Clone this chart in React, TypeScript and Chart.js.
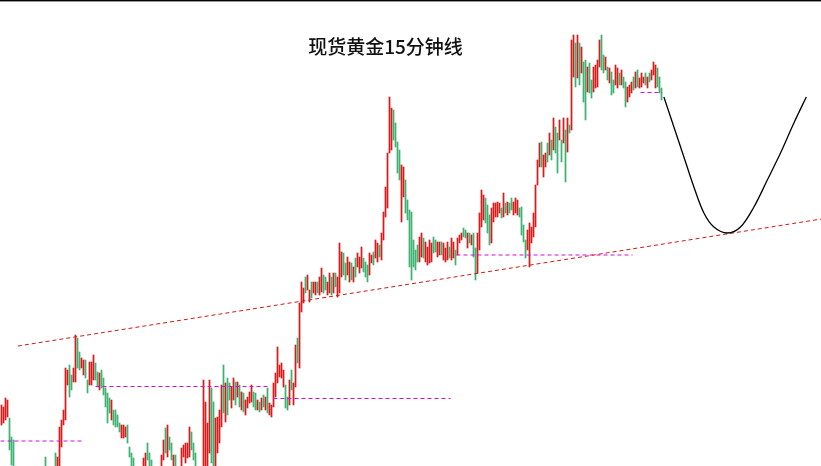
import React, { useEffect, useRef } from 'react';
import { Chart, registerables } from 'chart.js';

Chart.register(...registerables);

const TITLE = '现货黄金15分钟线';

// candle direction per bar: R = up (red), G = down (green)
const candleDirs = (
  'RRRRGGGGGR GRGGRRGRRG RRGGRRRGRR RRRRGGRRGG RRGGRRRGGR ' +
  'GGGGGRGGGG RRRGGGGGRG RRRGGGGRRG RRGRGGRGGR RRRRRGGGGR ' +
  'RRRRRGGRRR RGRGGRRGRG RGRRRRGGRG RGRGRRRRRR RRGGRGRRGR ' +
  'RRGRRGRRGR RGGRRGRGRR RGGRRGRGRR RGGGRRGRRG RRRRRRGGGG ' +
  'RRGGGGGGGR RGRRRRGGRR GRRRGRRGRR RGGRGRGGRR RRGGGRRRRR ' +
  'GRGRGGRRRG GGGRRRRRRR GRRGRGRGGR GRGRGRRGRG RGGRGGRRRR ' +
  'GGRGRGGRRG RGGRRRGRGR RRGRGRRRGG G'
).replace(/\s/g, '');

const highs = [
  1959.5, 1959.3, 1960.2, 1960.0, 1958.2, 1956.3, 1956.0, 1953.0, 1952.0, 1952.2,
  1951.5, 1951.8, 1951.2, 1950.5, 1951.0, 1951.5, 1951.2, 1952.0, 1952.2, 1952.0,
  1952.5, 1953.0, 1954.3, 1953.2, 1953.0, 1953.3, 1953.3, 1954.7, 1954.3, 1957.3,
  1958.0, 1959.0, 1963.2, 1963.0, 1963.5, 1962.5, 1963.2, 1966.5, 1966.2, 1964.8,
  1964.2, 1964.0, 1964.0, 1962.0, 1963.8, 1963.8, 1964.5, 1963.7, 1962.8, 1962.7,
  1963.0, 1962.2, 1961.2, 1960.7, 1960.2, 1960.0, 1959.0, 1959.0, 1958.5, 1957.7,
  1957.5, 1957.5, 1957.3, 1957.5, 1955.3, 1954.7, 1954.2, 1953.3, 1953.2, 1953.0,
  1953.3, 1954.2, 1954.7, 1955.7, 1954.7, 1954.0, 1953.2, 1952.8, 1953.0, 1953.3,
  1954.5, 1956.0, 1957.2, 1957.5, 1956.3, 1955.7, 1954.5, 1954.5, 1953.3, 1953.2,
  1955.2, 1955.5, 1955.7, 1955.7, 1957.3, 1956.8, 1955.7, 1954.7, 1953.3, 1953.0,
  1953.3, 1962.0, 1959.8, 1957.7, 1962.0, 1961.2, 1959.8, 1958.2, 1958.3, 1959.0,
  1961.5, 1963.5, 1961.7, 1962.2, 1961.7, 1961.3, 1962.2, 1961.8, 1961.8, 1961.5,
  1960.8, 1960.7, 1960.0, 1960.3, 1960.8, 1961.5, 1960.8, 1960.7, 1960.0, 1959.8,
  1960.2, 1960.5, 1960.3, 1961.2, 1959.7, 1959.5, 1961.7, 1962.7, 1965.3, 1963.5,
  1963.7, 1963.0, 1961.5, 1960.3, 1962.0, 1963.0, 1961.7, 1965.5, 1966.2, 1969.7,
  1971.8, 1971.2, 1972.3, 1972.5, 1971.0, 1971.8, 1971.8, 1971.8, 1971.8, 1972.3,
  1973.2, 1972.5, 1972.3, 1971.8, 1972.7, 1972.3, 1972.7, 1972.7, 1972.3, 1975.7,
  1974.8, 1974.7, 1973.7, 1974.3, 1973.8, 1973.7, 1973.3, 1974.2, 1974.7, 1974.3,
  1975.3, 1974.2, 1973.8, 1973.5, 1974.7, 1974.5, 1974.8, 1976.0, 1975.7, 1975.5,
  1976.7, 1978.8, 1981.3, 1984.7, 1990.3, 1989.2, 1989.0, 1987.7, 1985.8, 1985.0,
  1983.5, 1983.3, 1982.0, 1980.0, 1979.0, 1978.8, 1976.0, 1975.0, 1975.5, 1976.3,
  1976.7, 1976.2, 1975.8, 1975.3, 1976.0, 1975.7, 1976.3, 1976.0, 1975.8, 1975.8,
  1975.8, 1975.7, 1975.2, 1975.8, 1975.3, 1976.2, 1975.8, 1975.0, 1976.2, 1976.5,
  1976.7, 1977.2, 1977.0, 1976.7, 1976.7, 1976.5, 1976.7, 1975.2, 1976.7, 1978.7,
  1981.0, 1980.5, 1980.2, 1979.5, 1978.5, 1979.2, 1979.7, 1979.7, 1979.8, 1979.7,
  1979.2, 1980.7, 1979.7, 1979.8, 1979.7, 1980.2, 1979.8, 1980.2, 1980.0, 1979.2,
  1979.3, 1977.5, 1976.0, 1977.0, 1977.7, 1977.3, 1978.7, 1981.5, 1984.0, 1985.7,
  1985.8, 1984.5, 1984.7, 1985.7, 1986.7, 1986.0, 1988.2, 1987.3, 1986.7, 1988.0,
  1986.0, 1988.2, 1987.0, 1988.2, 1987.5, 1996.0, 1996.5, 1995.7, 1996.5, 1995.7,
  1995.3, 1993.8, 1994.0, 1993.3, 1993.7, 1992.0, 1993.3, 1993.5, 1994.0, 1996.0,
  1996.5, 1994.5, 1994.3, 1993.3, 1993.2, 1992.8, 1992.0, 1993.5, 1993.2, 1992.7,
  1993.0, 1992.3, 1991.8, 1991.3, 1991.5, 1991.8, 1992.3, 1992.8, 1993.0, 1992.2,
  1992.7, 1992.3, 1992.7, 1992.3, 1992.7, 1993.0, 1993.8, 1993.5, 1993.2, 1992.3,
  1991.2,
];

const lows = [
  1957.5, 1957.7, 1958.0, 1958.3, 1955.0, 1953.5, 1952.8, 1951.5, 1950.5, 1951.0,
  1950.0, 1950.5, 1949.5, 1949.0, 1949.5, 1950.0, 1950.0, 1950.5, 1951.0, 1950.5,
  1951.2, 1951.8, 1952.8, 1952.0, 1951.8, 1952.2, 1952.5, 1953.0, 1953.0, 1953.0,
  1955.3, 1957.5, 1958.0, 1961.5, 1960.3, 1961.0, 1961.8, 1961.8, 1963.2, 1963.0,
  1963.2, 1962.5, 1962.2, 1960.7, 1961.5, 1961.5, 1962.0, 1962.0, 1961.3, 1961.0,
  1961.2, 1960.5, 1959.3, 1957.7, 1958.7, 1958.0, 1957.5, 1957.3, 1957.3, 1956.8,
  1956.2, 1956.2, 1956.3, 1955.7, 1954.3, 1953.4, 1953.0, 1952.2, 1952.0, 1951.5,
  1952.3, 1953.0, 1953.2, 1954.0, 1953.2, 1952.8, 1951.8, 1951.5, 1952.0, 1952.2,
  1953.0, 1954.0, 1954.7, 1954.3, 1955.0, 1954.0, 1953.0, 1953.0, 1952.2, 1952.0,
  1953.0, 1954.3, 1953.7, 1954.2, 1954.3, 1955.0, 1954.0, 1953.0, 1952.0, 1951.5,
  1952.2, 1953.0, 1953.0, 1953.0, 1954.7, 1953.7, 1953.0, 1953.0, 1954.7, 1955.7,
  1957.3, 1958.7, 1957.8, 1958.5, 1960.0, 1959.2, 1960.0, 1959.5, 1960.3, 1959.3,
  1959.0, 1958.8, 1958.5, 1959.2, 1959.7, 1959.8, 1959.3, 1959.0, 1959.0, 1958.8,
  1959.0, 1959.3, 1959.0, 1958.7, 1958.5, 1958.3, 1959.3, 1960.3, 1961.7, 1962.3,
  1962.2, 1961.3, 1959.2, 1959.0, 1959.5, 1961.0, 1959.5, 1961.3, 1963.7, 1963.2,
  1968.8, 1969.7, 1970.7, 1971.0, 1969.8, 1970.2, 1970.7, 1970.5, 1970.7, 1970.5,
  1970.8, 1970.7, 1971.0, 1970.5, 1970.7, 1970.5, 1970.7, 1971.3, 1970.3, 1970.7,
  1972.3, 1972.5, 1972.0, 1972.5, 1971.8, 1972.0, 1971.8, 1972.3, 1973.3, 1972.7,
  1973.2, 1972.8, 1972.3, 1971.8, 1972.5, 1973.7, 1973.5, 1974.2, 1973.8, 1974.3,
  1974.0, 1976.0, 1978.3, 1979.2, 1984.7, 1985.0, 1986.0, 1985.3, 1982.7, 1982.0,
  1977.8, 1980.3, 1978.7, 1978.0, 1973.3, 1972.0, 1973.3, 1973.0, 1973.8, 1973.8,
  1974.3, 1974.2, 1973.8, 1973.5, 1973.7, 1973.8, 1974.7, 1974.8, 1974.3, 1974.5,
  1974.5, 1974.0, 1973.8, 1974.0, 1974.2, 1974.0, 1974.2, 1973.5, 1974.5, 1975.7,
  1976.0, 1976.3, 1976.2, 1975.2, 1975.7, 1975.5, 1974.3, 1972.0, 1972.7, 1975.0,
  1977.3, 1978.0, 1977.7, 1976.7, 1975.5, 1975.7, 1977.8, 1978.3, 1978.3, 1978.7,
  1978.2, 1978.3, 1978.7, 1978.5, 1978.7, 1979.0, 1978.5, 1978.7, 1978.5, 1978.3,
  1976.5, 1975.8, 1974.2, 1975.0, 1973.3, 1975.7, 1976.3, 1977.3, 1981.5, 1983.3,
  1983.3, 1982.3, 1983.3, 1983.8, 1984.5, 1984.0, 1985.0, 1984.7, 1982.7, 1986.0,
  1983.8, 1985.7, 1981.8, 1984.8, 1986.7, 1987.0, 1992.3, 1991.3, 1992.2, 1991.5,
  1992.7, 1989.8, 1988.0, 1990.8, 1990.7, 1990.2, 1990.8, 1991.2, 1991.3, 1993.3,
  1993.0, 1992.7, 1993.0, 1992.0, 1991.7, 1990.5, 1990.7, 1991.5, 1991.2, 1991.5,
  1991.5, 1991.2, 1989.3, 1989.8, 1990.3, 1990.7, 1991.0, 1991.2, 1991.3, 1991.2,
  1991.3, 1991.7, 1991.5, 1991.2, 1991.8, 1992.0, 1992.5, 1991.2, 1991.3, 1990.7,
  1990.0,
];

// red dashed rising trend line (bar index, price)
const trendX = [8.2, 410];
const trendY = [1965.4, 1978.1];

// magenta dashed horizontal levels
const levelStart = [-0.5, 47, 136, 227.5, 319.5];
const levelEnd = [40.5, 133.5, 224.5, 315.5, 330.3];
const levelPrice = [1955.9, 1961.35, 1960.15, 1974.5, 1990.75];

// black projected path
const curveX = [331.2, 336.2, 341.2, 346.2, 351.2, 356.2, 362.9, 369.5, 376.2, 382.9, 389.5, 396.2, 402.4];
const curveY = [1990.3, 1987.3, 1984.3, 1981.3, 1978.7, 1977.3, 1976.7, 1977.3, 1979.3, 1982.0, 1984.7, 1987.7, 1990.3];

const UP = '#d81c1c';
const DOWN = '#3cb371';

export default function App() {
  const ref = useRef<HTMLCanvasElement>(null);

  useEffect(() => {
    document.body.style.margin = '0';
    const canvas = ref.current;
    if (!canvas) return;

    const overlay = {
      id: 'overlayText',
      afterDraw(chart: any) {
        const c = chart.ctx;
        c.save();
        c.fillStyle = '#000';
        c.fillRect(0, 0, chart.width, 1);
        c.fillStyle = '#999';
        c.fillRect(0, 1, chart.width, 1);
        c.font = "500 19px 'Noto Sans CJK SC', sans-serif";
        c.textAlign = 'center';
        c.textBaseline = 'middle';
        c.fillStyle = '#111';
        c.fillText(TITLE, chart.width * 0.4695, 47);
        c.restore();
      },
    };

    const datasets: any[] = [
      {
        type: 'bar',
        data: highs.map((h, i) => ({ x: i, y: [lows[i], h] })),
        backgroundColor: highs.map((_, i) => (candleDirs[i] === 'R' ? UP : DOWN)),
        borderWidth: 0,
        barThickness: 1.1,
        grouped: false,
        order: 2,
      },
      {
        type: 'line',
        data: trendX.map((x, i) => ({ x, y: trendY[i] })),
        borderColor: '#d01818',
        borderWidth: 1,
        borderDash: [4, 3],
        pointRadius: 0,
        fill: false,
        order: 1,
      },
      ...levelPrice.map((p, i) => ({
        type: 'line',
        data: [
          { x: levelStart[i], y: p },
          { x: levelEnd[i], y: p },
        ],
        borderColor: '#d010d0',
        borderWidth: 1,
        borderDash: [4, 3],
        pointRadius: 0,
        fill: false,
        order: 1,
      })),
      {
        type: 'line',
        data: curveX.map((x, i) => ({ x, y: curveY[i] })),
        borderColor: '#000',
        borderWidth: 1.3,
        pointRadius: 0,
        tension: 0.35,
        fill: false,
        order: 0,
      },
    ];

    const chart = new Chart(canvas, {
      type: 'bar',
      data: { datasets },
      options: {
        animation: false,
        responsive: false,
        maintainAspectRatio: false,
        layout: { padding: 0 },
        plugins: {
          legend: { display: false },
          title: { display: false },
          tooltip: { enabled: false },
        },
        scales: {
          x: { type: 'linear', min: -0.75, max: 409.75, offset: false, display: false, grid: { display: false } },
          y: { type: 'linear', min: 1953.4, max: 2000, display: false, grid: { display: false } },
        },
      },
      plugins: [overlay],
    } as any);

    return () => chart.destroy();
  }, []);

  return (
    <div style={{ width: 821, height: 466, background: '#fff' }}>
      <canvas ref={ref} width={821} height={466} style={{ display: 'block' }} />
    </div>
  );
}
